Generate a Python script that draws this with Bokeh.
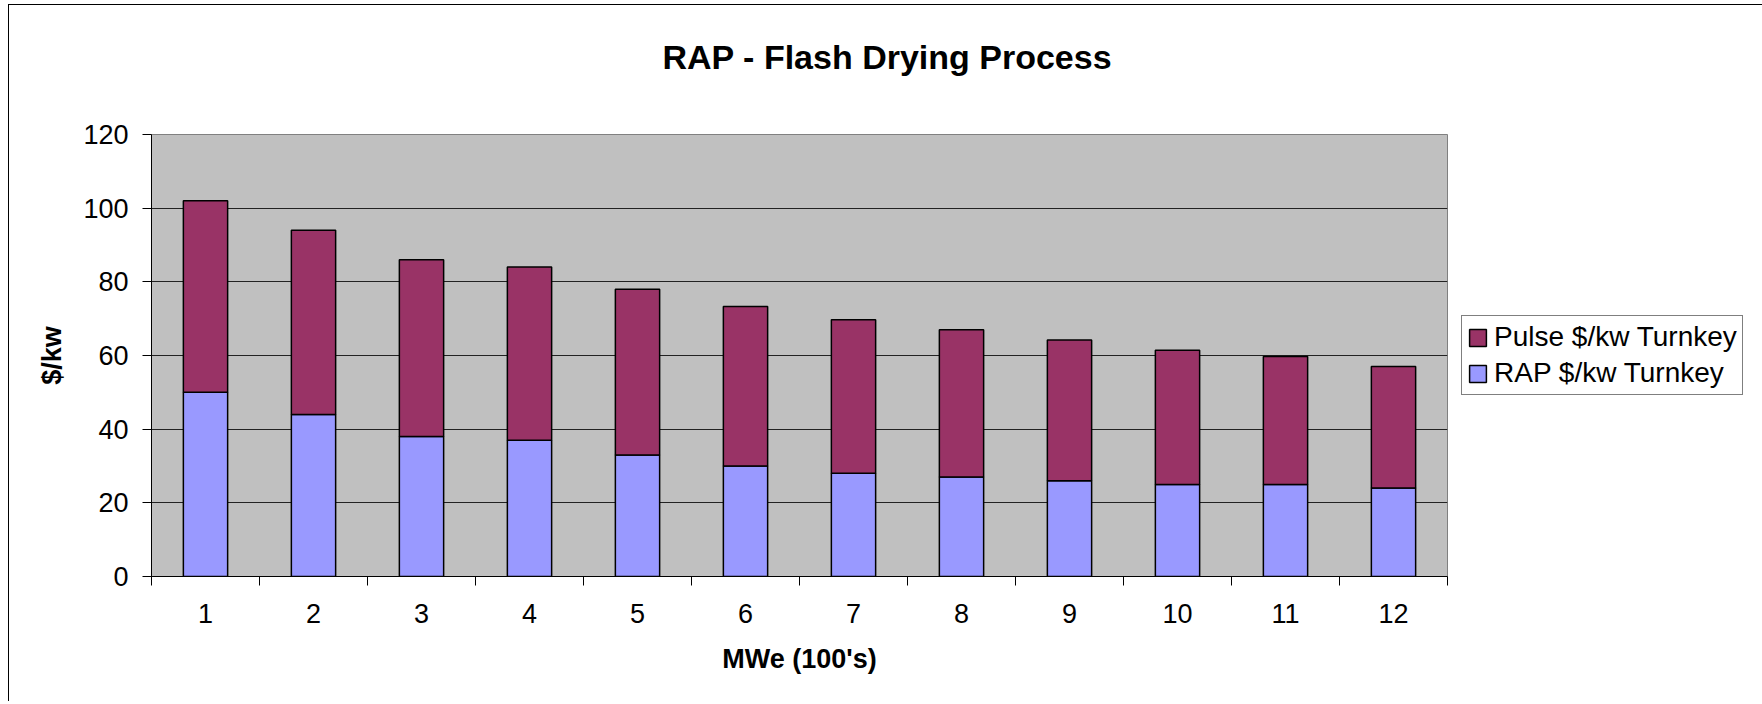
from bokeh.plotting import figure
from bokeh.models import (Range1d, FixedTicker, Legend, LegendItem, Title,
                          ColumnDataSource)
from bokeh.embed import file_html
from bokeh.resources import INLINE

# ---- data ----
categories = ["1", "2", "3", "4", "5", "6", "7", "8", "9", "10", "11", "12"]
rap_turnkey = [50, 44, 38, 37, 33, 30, 28, 27, 26, 25, 25, 24]
pulse_turnkey = [52, 50, 48, 47, 45, 43.3, 41.7, 40, 38.2, 36.4, 34.7, 33]
y_ticks = [0, 20, 40, 60, 80, 100, 120]
title_text = "RAP - Flash Drying Process"
x_title = "MWe (100's)"
y_title = "$/kw"
series_names = ["Pulse $/kw Turnkey", "RAP $/kw Turnkey"]

FONT = "Liberation Sans"

xs = list(range(1, len(categories) + 1))
tops = [r + p for r, p in zip(rap_turnkey, pulse_turnkey)]
src = ColumnDataSource(dict(x=xs, rap=rap_turnkey, total=tops,
                            zero=[0] * len(xs)))

W, H = 1750, 696
FL, FT, FR, FB = 142, 129, 1438, 571   # frame edges in canvas px
p = figure(width=W, height=H, output_backend="svg", toolbar_location=None,
           x_range=Range1d(0.5, len(categories) + 0.5),
           y_range=Range1d(y_ticks[0], y_ticks[-1]),
           min_border_left=FL, min_border_right=W - FR,
           min_border_top=FT, min_border_bottom=H - FB)
p.frame_width = FR - FL
p.frame_height = FB - FT
p.title = None
p.styles = {"margin-left": "8px", "margin-top": "4px",
            "border-left": "1px solid #000000", "border-top": "1px solid #000000"}

p.background_fill_color = "#C0C0C0"
p.border_fill_color = "white"
p.outline_line_color = "#808080"
p.outline_line_width = 1

rap_r = p.vbar(x="x", bottom="zero", top="rap", width=0.41, source=src,
               fill_color="#9999FF", line_color="black", line_width=1.5)
pulse_r = p.vbar(x="x", bottom="rap", top="total", width=0.41, source=src,
                 fill_color="#993366", line_color="black", line_width=1.5)

# grid
p.xgrid.visible = False
p.ygrid.grid_line_color = "#222222"
p.ygrid.grid_line_width = 1

# y axis
ya = p.yaxis[0]
ya.ticker = FixedTicker(ticks=y_ticks)
ya.axis_line_color = "black"
ya.major_tick_line_color = "black"
ya.major_tick_out = 9
ya.major_tick_in = 0
ya.minor_tick_line_color = None
ya.major_label_text_font = FONT
ya.major_label_text_font_size = "27px"
ya.major_label_text_color = "black"
ya.major_label_standoff = 14
ya.axis_label = y_title
ya.axis_label_text_font = FONT
ya.axis_label_text_font_size = "27px"
ya.axis_label_text_font_style = "bold"
ya.axis_label_text_color = "black"
ya.axis_label_standoff = 13

# x axis: labels at centers, ticks at category boundaries
xa = p.xaxis[0]
xa.ticker = FixedTicker(ticks=xs, minor_ticks=[x - 0.5 for x in xs] + [xs[-1] + 0.5])
xa.major_label_overrides = {x: c for x, c in zip(xs, categories)}
xa.axis_line_color = "black"
xa.major_tick_line_color = None
xa.major_tick_out = 9
xa.major_tick_in = 0
xa.minor_tick_line_color = "black"
xa.minor_tick_out = 9
xa.minor_tick_in = 0
xa.major_label_text_font = FONT
xa.major_label_text_font_size = "27px"
xa.major_label_text_color = "black"
xa.major_label_standoff = 18
xa.axis_label = x_title
xa.axis_label_text_font = FONT
xa.axis_label_text_font_size = "27px"
xa.axis_label_text_font_style = "bold"
xa.axis_label_text_color = "black"
xa.axis_label_standoff = 18

# spacer between frame and title, then the title (offset to centre on chart area)
spacer = Title(text=" ", align="left", standoff=14, text_font=FONT,
               text_font_size="34px", text_font_style="bold")
p.add_layout(spacer, "above")
title = Title(text=title_text, align="left", offset=511, standoff=10,
              text_font=FONT, text_font_size="34px", text_font_style="bold",
              text_color="black")
p.add_layout(title, "above")

legend = Legend(items=[LegendItem(label=series_names[0], renderers=[pulse_r]),
                       LegendItem(label=series_names[1], renderers=[rap_r])],
                location="left", orientation="vertical",
                label_text_font=FONT, label_text_font_size="28px",
                label_text_color="black",
                glyph_width=21, glyph_height=21, label_height=28,
                label_standoff=6, spacing=4, padding=5, margin=14,
                border_line_color="black", border_line_width=1,
                background_fill_color="white", background_fill_alpha=1)
p.add_layout(legend, "right")

open("out.html", "w").write(file_html(p, INLINE))
